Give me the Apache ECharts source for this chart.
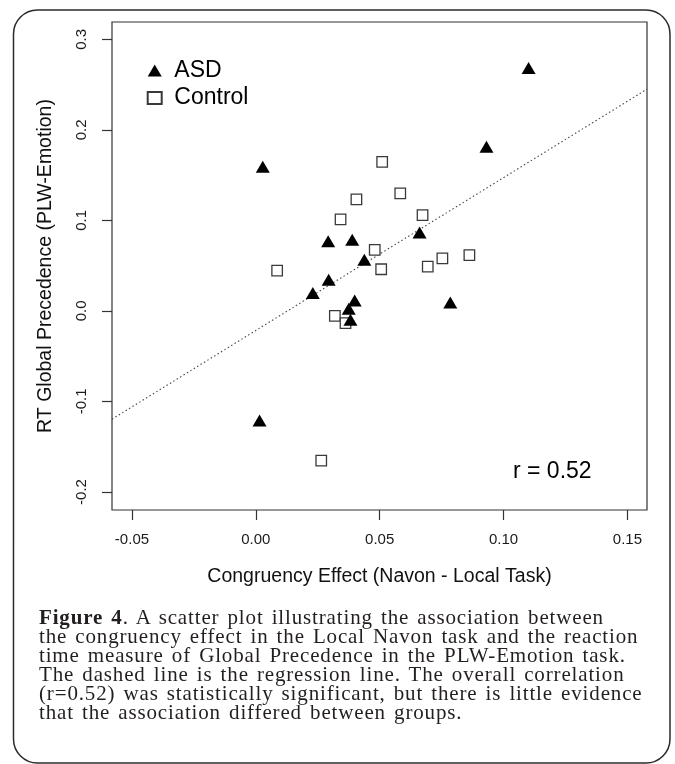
<!DOCTYPE html>
<html>
<head>
<meta charset="utf-8">
<script src="https://cdn.jsdelivr.net/npm/echarts@6/dist/echarts.min.js"></script>
<style>
  html, body { margin: 0; padding: 0; background: #fff; }
  #wrap { position: relative; width: 675px; height: 764px; overflow: hidden; }
  #chart { position: absolute; left: 0; top: 0; width: 675px; height: 764px; }
  #caption {
    position: absolute; left: 39px; top: 607.5px;
    font-family: "Liberation Serif", "Times New Roman", serif;
    font-size: 21px; line-height: 19px;
    letter-spacing: 0.85px; word-spacing: 2px;
    color: #231f20; white-space: nowrap;
  }
</style>
</head>
<body>
<div id="wrap">
  <div id="chart"></div>
  <div id="caption"><b>Figure 4</b>. A scatter plot illustrating the association between<br>the congruency effect in the Local Navon task and the reaction<br>time measure of Global Precedence in the PLW-Emotion task.<br>The dashed line is the regression line. The overall correlation<br>(r=0.52) was statistically significant, but there is little evidence<br>that the association differed between groups.</div>
</div>
<script>
// values
const asdX = [0.1101, 0.0931, 0.0028, 0.0292, 0.0389, 0.0294, 0.0230, 0.0438, 0.0661, 0.0785, 0.0399, 0.0375, 0.0382, 0.0015]
const asdY = [0.266, 0.179, 0.157, 0.0746, 0.0764, 0.0322, 0.0175, 0.0543, 0.0845, 0.0072, 0.0094, 0.0002, -0.0119, -0.1232]

const ctrlX = [0.0510, 0.0583, 0.0406, 0.0342, 0.0673, 0.0480, 0.0506, 0.0694, 0.0753, 0.0862, 0.0086, 0.0319, 0.0362, 0.0264]
const ctrlY = [0.1646, 0.1298, 0.1231, 0.1011, 0.1058, 0.0673, 0.0460, 0.0489, 0.0581, 0.0617, 0.0444, -0.0055, -0.0136, -0.1654]

// regression line end points (at the plot edges)
const regX = [-0.05806, 0.1579]
const regY = [-0.1196, 0.2449]

const xTicks = [-0.05, 0, 0.05, 0.1, 0.15]
const yTicks = [-0.2, -0.1, 0, 0.1, 0.2, 0.3]
const xRange = [-0.05806, 0.1579]
const yRange = [-0.2199, 0.3191]

const corrText = "r = 0.52"

const sans = '"Liberation Sans", Arial, Helvetica, sans-serif'
const axisCol = "#333"

function pairs(xs, ys) {
  return xs.map((x, i) => [x, ys[i]])
}

const chart = echarts.init(document.getElementById("chart"), null, { renderer: "canvas" })

const option = {
  animation: false,
  backgroundColor: "#fff",
  textStyle: { fontFamily: sans, color: "#111" },
  grid: {
    left: 112, top: 22, right: 28, bottom: 254,
    show: true, borderColor: axisCol, borderWidth: 1.2,
    containLabel: false, outerBoundsMode: "none"
  },
  legend: {
    data: ["ASD", "Control"],
    orient: "vertical",
    left: 146.7, top: 59,
    padding: 0,
    itemWidth: 14, itemHeight: 12, itemGap: 4.5,
    selectedMode: false,
    textStyle: { fontSize: 23, color: "#000", fontFamily: sans, padding: [0, 0, 0, 7.6] }
  },
  xAxis: {
    type: "value",
    min: xRange[0], max: xRange[1],
    name: "Congruency Effect (Navon - Local Task)",
    nameLocation: "middle", nameGap: 57, nameMoveOverlap: false,
    nameTextStyle: { fontSize: 19.5, color: "#111", fontFamily: sans },
    axisLine: { show: false, onZero: false },
    axisTick: { show: true, length: 10, customValues: xTicks, lineStyle: { color: axisCol, width: 1.2 } },
    axisLabel: { customValues: xTicks, formatter: (v) => v.toFixed(2), fontSize: 15, margin: 22, color: "#1a1a1a" },
    splitLine: { show: false }
  },
  yAxis: {
    type: "value",
    min: yRange[0], max: yRange[1],
    name: "RT Global Precedence (PLW-Emotion)",
    nameLocation: "middle", nameGap: 56, nameRotate: 90, nameMoveOverlap: false,
    nameTextStyle: { fontSize: 19.5, color: "#111", fontFamily: sans },
    axisLine: { show: false, onZero: false },
    axisTick: { show: true, length: 10, customValues: yTicks, lineStyle: { color: axisCol, width: 1.2 } },
    axisLabel: { customValues: yTicks, formatter: (v) => v.toFixed(1), fontSize: 15, margin: 23, rotate: 90, color: "#1a1a1a" },
    splitLine: { show: false }
  },
  series: [
    {
      name: "regression",
      type: "line",
      data: pairs(regX, regY),
      showSymbol: false,
      silent: true,
      z: 1,
      lineStyle: { color: "#444", width: 1.1, type: [1.5, 2.5] }
    },
    {
      name: "Control",
      type: "scatter",
      data: pairs(ctrlX, ctrlY),
      symbol: "rect",
      symbolSize: 10.5,
      z: 2,
      itemStyle: { color: "#fff", borderColor: "#3a3a3a", borderWidth: 1.3, opacity: 1 }
    },
    {
      name: "ASD",
      type: "scatter",
      data: pairs(asdX, asdY),
      symbol: "triangle",
      symbolSize: [14, 12],
      symbolOffset: [0, -2],
      z: 3,
      itemStyle: { color: "#000", opacity: 1 }
    }
  ],
  graphic: [
    {
      type: "rect",
      silent: true,
      shape: { x: 13.5, y: 10, width: 656.5, height: 753, r: 24 },
      style: { fill: "none", stroke: "#2b2b2b", lineWidth: 1.5 }
    },
    {
      type: "text",
      x: 513, y: 472,
      style: { text: corrText, fontSize: 23, fontFamily: sans, fill: "#000", verticalAlign: "middle" }
    }
  ]
}

chart.setOption(option)
</script>
</body>
</html>
